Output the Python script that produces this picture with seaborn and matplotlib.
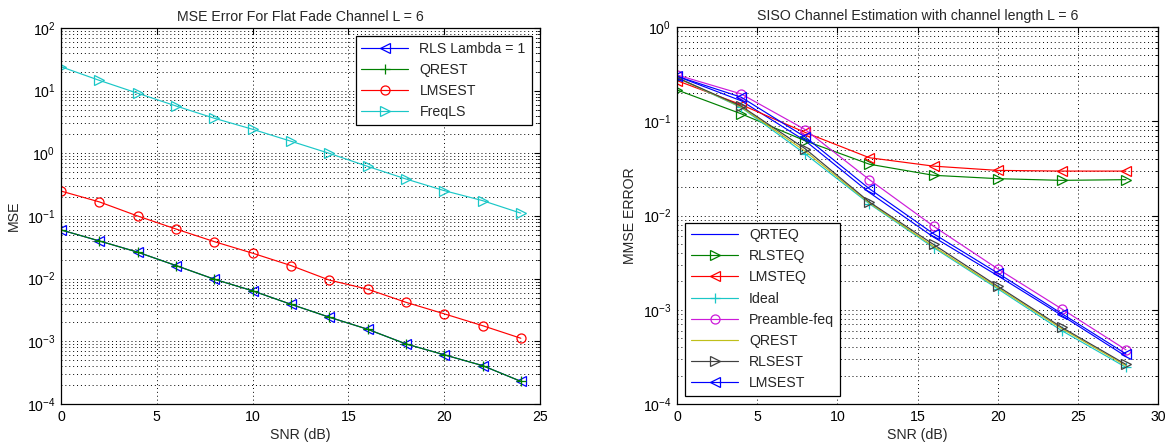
import matplotlib
matplotlib.use("Agg")
import matplotlib.pyplot as plt
import seaborn as sns
import numpy as np
from matplotlib.ticker import LogLocator, NullFormatter, MultipleLocator

# ---------------- data: left panel ----------------
snr_left = [0, 2, 4, 6, 8, 10, 12, 14, 16, 18, 20, 22, 24]
rls_lambda1 = [0.060, 0.040, 0.0265, 0.0162, 0.0098, 0.0064, 0.0039, 0.00243, 0.00156, 0.00091, 0.00061, 0.00041, 0.00023]
qrest_left = [0.060, 0.040, 0.0265, 0.0162, 0.0098, 0.0064, 0.0039, 0.00243, 0.00156, 0.00091, 0.00061, 0.00041, 0.00023]
lmsest_left = [0.25, 0.168, 0.100, 0.062, 0.039, 0.0255, 0.0162, 0.0095, 0.0068, 0.0042, 0.00275, 0.00178, 0.00112]
freqls = [24.1, 14.6, 9.1, 5.7, 3.63, 2.42, 1.56, 1.0, 0.62, 0.39, 0.254, 0.176, 0.111]

# ---------------- data: right panel ----------------
snr_right = [0, 4, 8, 12, 16, 20, 24, 28]
qrteq = [0.300, 0.165, 0.062, 0.0175, 0.0059, 0.0023, 0.00087, 0.00032]
rlsteq = [0.215, 0.120, 0.062, 0.035, 0.0267, 0.0246, 0.0236, 0.0240]
lmsteq = [0.270, 0.150, 0.076, 0.041, 0.0334, 0.0301, 0.0296, 0.0296]
ideal = [0.290, 0.140, 0.045, 0.0133, 0.00457, 0.00167, 0.00060, 0.000245]
preamble_feq = [0.310, 0.195, 0.0815, 0.024, 0.0077, 0.00272, 0.00102, 0.000376]
qrest_right = [0.290, 0.142, 0.048, 0.0136, 0.0047, 0.00172, 0.00063, 0.000255]
rlsest = [0.290, 0.145, 0.051, 0.0139, 0.00493, 0.00178, 0.00065, 0.000263]
lmsest_right = [0.300, 0.180, 0.068, 0.0192, 0.0064, 0.00245, 0.00091, 0.00034]

sns.set_style("white")
plt.rcParams["font.family"] = ["Liberation Sans", "DejaVu Sans"]
plt.rcParams["mathtext.default"] = "regular"

FS = 10.2
BLUE = (0, 0, 1)
GREEN = (0, 0.5, 0)
RED = (1, 0, 0)
CYAN = (0.1, 0.78, 0.78)
MAG = (0.8, 0.1, 0.85)
YEL = (0.75, 0.75, 0.1)
BLK = (0.25, 0.25, 0.25)

fig = plt.figure(figsize=(11.74, 4.48), dpi=100)
ax1 = fig.add_axes([61 / 1174, 44 / 448, 479 / 1174, 376 / 448])
ax2 = fig.add_axes([677 / 1174, 44 / 448, 481 / 1174, 377 / 448])


def draw(ax, x, y, color, marker, label):
    kw = dict(color=color, linewidth=0.85, label=label, sort=False, estimator=None, ax=ax)
    if marker is not None:
        kw.update(marker=marker, markersize=7.5 if marker != "o" else 6.5,
                  markerfacecolor="none", markeredgecolor=color, markeredgewidth=0.9)
    sns.lineplot(x=x, y=y, **kw)


def style_axes(ax, xmax, ymin, ymax):
    ax.set_yscale("log")
    ax.set_xlim(0, xmax)
    ax.set_ylim(ymin, ymax)
    ax.xaxis.set_major_locator(MultipleLocator(5))
    ax.yaxis.set_major_locator(LogLocator(base=10, numticks=20))
    ax.yaxis.set_minor_locator(LogLocator(base=10, subs=np.arange(2, 10), numticks=20))
    ax.yaxis.set_minor_formatter(NullFormatter())
    ax.grid(True, which="major", axis="both", color="black", linestyle=(0, (1, 3)), linewidth=0.7)
    ax.grid(True, which="minor", axis="y", color="black", linestyle=(0, (1, 3)), linewidth=0.7)
    ax.tick_params(which="both", direction="in", top=True, right=True, labelsize=FS, colors="black")
    ax.tick_params(which="major", length=4, width=0.8, pad=4)
    ax.tick_params(which="minor", length=2.5, width=0.6)
    for s in ax.spines.values():
        s.set_color("black")
        s.set_linewidth(0.9)
    ax.set_xlabel("SNR (dB)", fontsize=FS, labelpad=3)


# left panel
draw(ax1, snr_left, rls_lambda1, BLUE, "<", "RLS Lambda = 1")
draw(ax1, snr_left, qrest_left, GREEN, "+", "QREST")
draw(ax1, snr_left, lmsest_left, RED, "o", "LMSEST")
draw(ax1, snr_left, freqls, CYAN, ">", "FreqLS")
style_axes(ax1, 25, 1e-4, 1e2)
ax1.set_ylabel("MSE", fontsize=FS)
ax1.set_title("MSE Error For Flat Fade Channel L = 6", fontsize=FS, pad=5)
leg1 = ax1.legend(loc="upper right", fontsize=FS, frameon=True, fancybox=False,
                  edgecolor="black", framealpha=1, numpoints=1, handlelength=3.3,
                  labelspacing=0.5, borderaxespad=0.6)
leg1.get_frame().set_linewidth(0.9)

# right panel
draw(ax2, snr_right, qrteq, BLUE, None, "QRTEQ")
draw(ax2, snr_right, rlsteq, GREEN, ">", "RLSTEQ")
draw(ax2, snr_right, lmsteq, RED, "<", "LMSTEQ")
draw(ax2, snr_right, ideal, CYAN, "+", "Ideal")
draw(ax2, snr_right, preamble_feq, MAG, "o", "Preamble-feq")
draw(ax2, snr_right, qrest_right, YEL, None, "QREST")
draw(ax2, snr_right, rlsest, BLK, ">", "RLSEST")
draw(ax2, snr_right, lmsest_right, BLUE, "<", "LMSEST")
style_axes(ax2, 30, 1e-4, 1e0)
ax2.set_ylabel("MMSE ERROR", fontsize=FS)
ax2.set_title("SISO Channel Estimation with channel length L = 6", fontsize=FS, pad=5)
leg2 = ax2.legend(loc="lower left", fontsize=FS, frameon=True, fancybox=False,
                  edgecolor="black", framealpha=1, numpoints=1, handlelength=3.3,
                  labelspacing=0.5, borderaxespad=0.6)
leg2.get_frame().set_linewidth(0.9)

fig.savefig("out.png", dpi=100)
